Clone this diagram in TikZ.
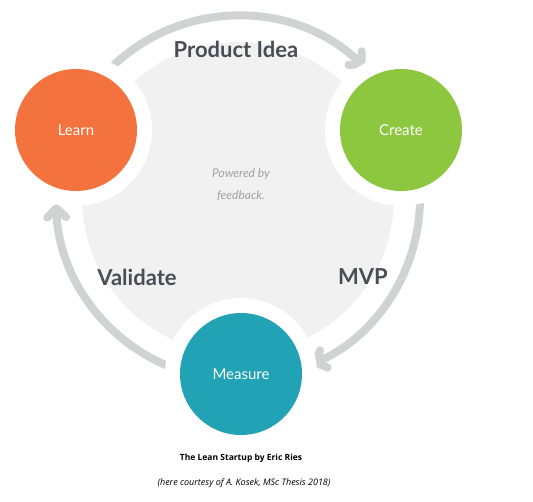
\documentclass[tikz,border=0pt]{standalone}
\usepackage{fontspec}
\setmainfont{Lato}
\newfontfamily\capfont{Open Sans}
\usetikzlibrary{arrows.meta}
\definecolor{learncol}{HTML}{F4723D}
\definecolor{createcol}{HTML}{8DC63F}
\definecolor{measurecol}{HTML}{21A3B5}
\definecolor{diskcol}{HTML}{F1F1F2}
\definecolor{loopcol}{HTML}{D1D2D4}
\definecolor{labelcol}{HTML}{4A4D55}
\definecolor{softcol}{HTML}{A0A1A5}
\tikzset{
  stage/.style={circle,fill=#1,minimum size=122pt,inner sep=0pt,outer sep=0pt,
    preaction={draw=white,fill=white,line width=30pt},
    text=white,font=\fontsize{15}{18}\selectfont},
  loop/.style={draw=loopcol,line width=8pt,line cap=round,
    -{Straight Barb[length=9pt,width=19pt,round]}},
  phase/.style={text=labelcol,font=\fontsize{22}{26}\selectfont\bfseries}
}
\begin{document}
\begin{tikzpicture}[x=1pt,y=-1pt]
  \useasboundingbox (0,0) rectangle (533,501);

  % Draw the pale disk behind the loop
  \coordinate (hub) at (238,198);
  \fill[diskcol] (hub) circle (156);

  % Draw the three arrows round the loop
  \draw[loop] ([shift={(-133:182)}]hub) arc[start angle=-133,end angle=-46,radius=182];
  \draw[loop] ([shift={(2:182)}]hub) arc[start angle=2,end angle=66,radius=182];
  \draw[loop] ([shift={(113:182)}]hub) arc[start angle=113,end angle=178,radius=182];

  % Draw the stages
  \node[stage=learncol] (learn) at (76,130) {Learn};
  \node[stage=createcol] (create) at (401,130) {Create};
  \node[stage=measurecol] (measure) at (241,374) {Measure};

  % Write the phase labels
  \node[phase] (idea) at (236,49) {Product Idea};
  \node[phase] (validate) at (137,277) {Validate};
  \node[phase] (mvp) at (363,277) {MVP};
  \node[text=softcol,align=center,font=\fontsize{12}{22}\selectfont\itshape] (powered) at (241,185) {Powered by\\feedback.};

  % Write the caption
  \node[font=\capfont\fontsize{8.5}{10}\selectfont\bfseries] (title) at (241,458) {The Lean Startup by Eric Ries};
  \node[font=\capfont\fontsize{9}{11}\selectfont\itshape] (credit) at (244,483) {(here courtesy of A. Kosek, MSc Thesis 2018)};
\end{tikzpicture}
\end{document}
